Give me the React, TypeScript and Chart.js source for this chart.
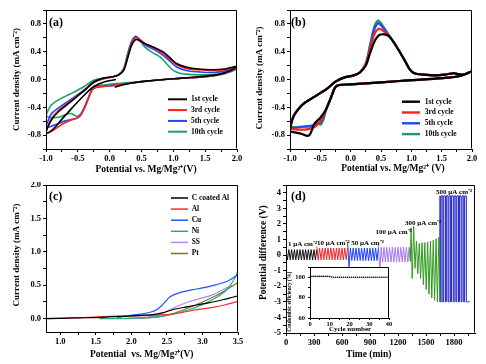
import React, { useEffect, useRef } from 'react';
import { Chart, registerables } from 'chart.js';

Chart.register(...registerables);

const SERIF = "'Liberation Serif', 'Times New Roman', serif";

// ---------------- Panel (a): CV on C-coated Al ----------------
const aLabels = ['1st cycle', '3rd cycle', '5th cycle', '10th cycle'];
const aColors = ['#000000', '#ff1f1f', '#2446ff', '#1f9f6a'];
const aCycle1: [number, number][] = [
  [0.1, 0.0], [-0.1, -0.04], [-0.25, -0.1], [-0.35, -0.18], [-0.5, -0.32], [-0.65, -0.47], [-0.75, -0.57], [-0.85, -0.68], [-0.95, -0.76], [-1.0, -0.77],
  [-0.97, -0.68], [-0.9, -0.56], [-0.8, -0.46], [-0.6, -0.31], [-0.4, -0.16], [-0.25, -0.04], [-0.1, 0.02], [0.05, 0.04], [0.15, 0.07], [0.22, 0.13], [0.28, 0.3], [0.34, 0.48], [0.4, 0.57], [0.45, 0.57], [0.55, 0.52], [0.7, 0.46], [0.85, 0.39], [0.95, 0.31], [1.05, 0.23], [1.2, 0.18], [1.4, 0.15], [1.6, 0.14], [1.8, 0.15], [2.0, 0.19],
  [1.9, 0.13], [1.7, 0.07], [1.4, 0.04], [1.0, 0.01], [0.6, -0.02], [0.35, -0.05], [0.2, -0.08], [0.08, -0.11],
];
const aCycle3: [number, number][] = [
  [2.0, 0.17], [1.8, 0.09], [1.5, 0.04], [1.0, 0.01], [0.5, -0.03], [0.2, -0.07], [0.0, -0.09], [-0.2, -0.11], [-0.27, -0.14], [-0.33, -0.26], [-0.4, -0.42], [-0.47, -0.53], [-0.53, -0.56], [-0.62, -0.59], [-0.72, -0.63], [-0.82, -0.69], [-0.92, -0.75], [-1.0, -0.76],
  [-0.97, -0.68], [-0.92, -0.57], [-0.82, -0.46], [-0.6, -0.3], [-0.4, -0.16], [-0.25, -0.04], [-0.1, 0.01], [0.05, 0.04], [0.15, 0.07], [0.22, 0.14], [0.28, 0.32], [0.34, 0.51], [0.4, 0.6], [0.45, 0.59], [0.55, 0.52], [0.7, 0.45], [0.85, 0.37], [0.95, 0.29], [1.05, 0.21], [1.2, 0.16], [1.4, 0.14], [1.6, 0.13], [1.8, 0.14], [2.0, 0.17],
];
const aCycle5: [number, number][] = [
  [2.0, 0.16], [1.8, 0.09], [1.5, 0.04], [1.0, 0.01], [0.5, -0.03], [0.2, -0.07], [0.0, -0.09], [-0.2, -0.11], [-0.27, -0.14], [-0.33, -0.26], [-0.4, -0.42], [-0.47, -0.53], [-0.53, -0.56], [-0.62, -0.58], [-0.75, -0.61], [-0.88, -0.66], [-1.0, -0.69],
  [-0.97, -0.6], [-0.92, -0.5], [-0.82, -0.42], [-0.6, -0.28], [-0.4, -0.15], [-0.25, -0.03], [-0.1, 0.01], [0.05, 0.04], [0.15, 0.07], [0.22, 0.15], [0.28, 0.35], [0.34, 0.54], [0.4, 0.62], [0.45, 0.6], [0.55, 0.5], [0.7, 0.43], [0.85, 0.34], [0.95, 0.26], [1.05, 0.18], [1.2, 0.13], [1.4, 0.11], [1.6, 0.1], [1.8, 0.12], [2.0, 0.16],
];
const aCycle10: [number, number][] = [
  [2.0, 0.15], [1.8, 0.08], [1.5, 0.04], [1.0, 0.01], [0.5, -0.03], [0.2, -0.05], [0.0, -0.07], [-0.2, -0.09], [-0.27, -0.13], [-0.33, -0.25], [-0.4, -0.4], [-0.46, -0.5], [-0.52, -0.53], [-0.6, -0.49], [-0.68, -0.5], [-0.78, -0.54], [-0.9, -0.55], [-1.0, -0.52],
  [-0.97, -0.45], [-0.92, -0.37], [-0.82, -0.3], [-0.6, -0.2], [-0.4, -0.1], [-0.25, -0.01], [-0.1, 0.02], [0.05, 0.04], [0.15, 0.08], [0.22, 0.16], [0.28, 0.36], [0.34, 0.53], [0.4, 0.6], [0.45, 0.58], [0.55, 0.47], [0.65, 0.4], [0.8, 0.32], [0.9, 0.22], [1.0, 0.13], [1.1, 0.09], [1.3, 0.07], [1.6, 0.07], [1.8, 0.1], [2.0, 0.15],
];

// ---------------- Panel (b): CV ----------------
const bLabels = ['1st cycle', '3rd cycle', '5th cycle', '10th cycle'];
const bColors = ['#000000', '#ff1f1f', '#2446ff', '#1f9f5c'];
const bCycle1: [number, number][] = [
  [2.0, 0.12], [1.8, 0.05], [1.5, 0.02], [1.0, -0.01], [0.5, -0.04], [0.0, -0.07], [-0.2, -0.08], [-0.26, -0.12], [-0.32, -0.25], [-0.4, -0.42], [-0.5, -0.55], [-0.6, -0.64], [-0.67, -0.79], [-0.72, -0.81], [-0.82, -0.78], [-0.92, -0.76], [-1.0, -0.74],
  [-0.98, -0.64], [-0.94, -0.53], [-0.88, -0.45], [-0.78, -0.35], [-0.6, -0.25], [-0.4, -0.14], [-0.25, -0.03], [-0.1, 0.03], [0.05, 0.06], [0.15, 0.1], [0.25, 0.2], [0.32, 0.38], [0.4, 0.56], [0.47, 0.64], [0.55, 0.65], [0.62, 0.63], [0.7, 0.55], [0.8, 0.41], [0.9, 0.26], [0.97, 0.15], [1.05, 0.09], [1.2, 0.07], [1.4, 0.06], [1.55, 0.07], [1.7, 0.09], [1.85, 0.07], [2.0, 0.12],
];
const bCycle3: [number, number][] = [
  [2.0, 0.12], [1.8, 0.05], [1.5, 0.02], [1.0, -0.01], [0.5, -0.04], [0.0, -0.07], [-0.2, -0.08], [-0.26, -0.12], [-0.32, -0.25], [-0.4, -0.42], [-0.48, -0.57], [-0.56, -0.66], [-0.64, -0.7], [-0.75, -0.72], [-0.88, -0.72], [-1.0, -0.7],
  [-0.98, -0.62], [-0.94, -0.52], [-0.88, -0.44], [-0.78, -0.35], [-0.6, -0.25], [-0.4, -0.14], [-0.25, -0.03], [-0.1, 0.03], [0.05, 0.06], [0.15, 0.1], [0.25, 0.22], [0.32, 0.44], [0.39, 0.65], [0.46, 0.73], [0.52, 0.71], [0.6, 0.65], [0.7, 0.55], [0.8, 0.41], [0.9, 0.26], [0.97, 0.15], [1.05, 0.09], [1.2, 0.07], [1.4, 0.06], [1.55, 0.07], [1.7, 0.09], [1.85, 0.07], [2.0, 0.12],
];
const bCycle5: [number, number][] = [
  [2.0, 0.12], [1.8, 0.05], [1.5, 0.02], [1.0, -0.01], [0.5, -0.04], [0.0, -0.07], [-0.2, -0.08], [-0.26, -0.12], [-0.32, -0.25], [-0.4, -0.42], [-0.45, -0.55], [-0.5, -0.62], [-0.56, -0.64], [-0.65, -0.67], [-0.8, -0.68], [-1.0, -0.7],
  [-0.98, -0.62], [-0.94, -0.52], [-0.88, -0.44], [-0.78, -0.35], [-0.6, -0.25], [-0.4, -0.14], [-0.25, -0.03], [-0.1, 0.03], [0.05, 0.06], [0.15, 0.1], [0.25, 0.23], [0.32, 0.48], [0.39, 0.72], [0.45, 0.81], [0.5, 0.78], [0.6, 0.67], [0.7, 0.55], [0.8, 0.41], [0.9, 0.26], [0.97, 0.15], [1.05, 0.09], [1.2, 0.07], [1.4, 0.06], [1.55, 0.07], [1.7, 0.09], [1.85, 0.07], [2.0, 0.12],
];
const bCycle10: [number, number][] = [
  [2.0, 0.12], [1.8, 0.05], [1.5, 0.02], [1.0, -0.01], [0.5, -0.04], [0.0, -0.07], [-0.2, -0.08], [-0.26, -0.12], [-0.32, -0.25], [-0.4, -0.42], [-0.45, -0.58], [-0.49, -0.65], [-0.54, -0.63], [-0.62, -0.66], [-0.8, -0.68], [-1.0, -0.68],
  [-0.98, -0.62], [-0.94, -0.52], [-0.88, -0.44], [-0.78, -0.35], [-0.6, -0.25], [-0.4, -0.14], [-0.25, -0.03], [-0.1, 0.03], [0.05, 0.06], [0.15, 0.1], [0.25, 0.23], [0.32, 0.5], [0.39, 0.76], [0.45, 0.85], [0.5, 0.81], [0.6, 0.68], [0.7, 0.55], [0.8, 0.41], [0.9, 0.26], [0.97, 0.15], [1.05, 0.09], [1.2, 0.07], [1.4, 0.06], [1.55, 0.07], [1.7, 0.09], [1.85, 0.07], [2.0, 0.12],
];

// ---------------- Panel (c): LSV on substrates ----------------
const cLabels = ['C coated Al', 'Al', 'Cu', 'Ni', 'SS', 'Pt'];
const cColors = ['#000000', '#ff2a2a', '#2255ff', '#1fae8c', '#b388f5', '#7b7b12'];
const cCoatedAl: [number, number][] = [[0.8, 0.0], [1.2, 0.01], [1.6, 0.02], [2.0, 0.04], [2.3, 0.06], [2.45, 0.09], [2.6, 0.14], [2.8, 0.18], [3.0, 0.22], [3.2, 0.26], [3.35, 0.3], [3.5, 0.34]];
const cAl: [number, number][] = [[0.8, 0.0], [1.2, 0.01], [1.6, 0.03], [2.0, 0.04], [2.3, 0.05], [2.5, 0.06], [2.7, 0.09], [2.9, 0.13], [3.1, 0.16], [3.3, 0.2], [3.5, 0.26]];
const cCu: [number, number][] = [[1.8, 0.02], [2.0, 0.05], [2.2, 0.08], [2.35, 0.13], [2.45, 0.22], [2.55, 0.33], [2.68, 0.39], [2.85, 0.43], [3.0, 0.46], [3.2, 0.51], [3.35, 0.56], [3.5, 0.66]];
const cNi: [number, number][] = [[1.55, 0.0], [1.8, 0.0], [2.1, 0.01], [2.4, 0.03], [2.6, 0.07], [2.8, 0.13], [3.0, 0.21], [3.2, 0.32], [3.35, 0.44], [3.45, 0.6], [3.5, 0.71]];
const cSS: [number, number][] = [[2.0, 0.0], [2.2, 0.02], [2.4, 0.06], [2.55, 0.14], [2.68, 0.2], [2.83, 0.26], [3.0, 0.31], [3.15, 0.36], [3.3, 0.44], [3.42, 0.5]];
const cPt: [number, number][] = [[1.9, 0.0], [2.2, 0.01], [2.4, 0.03], [2.6, 0.08], [2.8, 0.16], [3.0, 0.25], [3.2, 0.35], [3.35, 0.44], [3.5, 0.54]];

// ---------------- Panel (d): galvanostatic cycling ----------------
const d1T = [0, 15, 30, 45, 60, 75, 90, 105, 120, 135, 150, 165, 180, 195, 210, 225, 240, 255, 270, 285, 300, 315, 330];
const d1V = [0.35, -0.3, 0.35, -0.3, 0.35, -0.3, 0.35, -0.3, 0.35, -0.3, 0.35, -0.3, 0.35, -0.3, 0.35, -0.3, 0.35, -0.3, 0.35, -0.3, 0.35, -0.3, 0.35];
const d2T = [330, 345, 360, 375, 390, 405, 420, 435, 450, 465, 480, 495, 510, 525, 540, 555, 570, 585, 600, 615, 630, 645, 660];
const d2V = [0.55, -0.32, 0.45, -0.3, 0.45, -0.3, 0.45, -0.3, 0.45, -0.3, 0.45, -0.3, 0.45, -0.3, 0.45, -0.3, 0.45, -0.3, 0.45, -0.3, 0.45, -0.3, 0.45];
const d3T = [660, 675, 690, 705, 720, 735, 750, 765, 780, 795, 810, 825, 840, 855, 870, 885, 900, 915, 930, 945, 960, 975, 990];
const d3V = [0.85, -0.75, 0.45, -0.35, 0.45, -0.35, 0.45, -0.35, 0.45, -0.35, 0.45, -0.35, 0.45, -0.35, 0.45, -0.35, 0.45, -0.35, 0.45, -0.35, 0.45, -0.35, 0.45];
const d4T = [990, 1005, 1020, 1035, 1050, 1065, 1080, 1095, 1110, 1125, 1140, 1155, 1170, 1185, 1200, 1215, 1230, 1245, 1260, 1275, 1290, 1305, 1320];
const d4V = [0.65, -0.97, 0.5, -0.45, 0.5, -0.45, 0.5, -0.45, 0.5, -0.45, 0.5, -0.45, 0.5, -0.45, 0.5, -0.45, 0.5, -0.45, 0.5, -0.45, 0.5, -0.45, 0.5];
const d5T = [1320, 1332, 1340, 1352, 1368, 1382, 1398, 1412, 1428, 1442, 1458, 1472, 1488, 1502, 1518, 1532, 1548, 1562, 1578, 1592, 1608, 1622, 1638, 1650];
const d5V = [0.5, -0.4, 1.75, -1.5, 1.85, -0.85, 0.9, -1.2, 0.75, -1.5, 0.8, -1.9, 0.8, -2.2, 0.85, -2.5, 0.9, -2.75, 0.95, -2.9, 1.05, -3.0, 1.15, -3.0];
const d6T = [1650, 1652, 1662, 1680, 1690, 1708, 1718, 1736, 1746, 1764, 1774, 1792, 1802, 1820, 1830, 1848, 1858, 1876, 1886, 1904, 1914, 1932, 1942, 1968];
const d6V = [-3.0, 3.8, -3.0, 3.8, -3.0, 3.8, -3.0, 3.8, -3.0, 3.8, -3.0, 3.8, -3.0, 3.8, -3.0, 3.8, -3.0, 3.8, -3.0, 3.8, -3.0, 3.8, -3.0, -3.0];
const dColors = ['#111111', '#f0262a', '#1e40ff', '#a878f0', '#2e9a1e', '#2323c8'];
const dNotes = [
  { text: '1 μA cm⁻²', t: 21, v: 0.68 },
  { text: '10 μA cm⁻²', t: 332, v: 0.74 },
  { text: '50 μA cm⁻²', t: 699, v: 0.74 },
  { text: '100 μA cm⁻²', t: 960, v: 1.5 },
  { text: '300 μA cm⁻²', t: 1276, v: 2.03 },
  { text: '500 μA cm⁻²', t: 1608, v: 4.07 },
];

// inset: coulombic efficiency
const inCycles = [1, 2, 3, 4, 5, 6, 7, 8, 9, 10, 11, 12, 13, 14, 15, 16, 17, 18, 19, 20, 21, 22, 23, 24, 25, 26, 27, 28, 29, 30, 31, 32, 33, 34, 35, 36, 37, 38, 39, 40];
const inCE = [100.8, 100.8, 100.8, 100.8, 100.8, 100.8, 100.8, 100.8, 100.8, 100.7, 100.1, 100.0, 100.0, 100.0, 100.0, 100.0, 100.0, 100.0, 100.0, 100.0, 100.0, 100.0, 100.0, 100.0, 100.0, 100.0, 100.0, 100.0, 100.0, 100.0, 100.0, 100.0, 100.0, 100.0, 100.0, 100.0, 100.0, 100.0, 100.0, 100.0];

// ---------------- helpers ----------------
const pts = (arr: [number, number][]) => arr.map(([x, y]) => ({ x, y }));
const zip = (t: number[], v: number[]) => t.map((x, i) => ({ x, y: v[i] }));

function linAxis(min: number, max: number, step: number, major: number, dec: number, isX: boolean, fixed: number, fontSize = 8.5, tickLen = 3, pad = 2) {
  return {
    type: 'linear',
    min,
    max,
    afterFit(s: any) {
      if (isX) s.height = fixed;
      else s.width = fixed;
      s.paddingLeft = 0;
      s.paddingRight = 0;
      s.paddingTop = 0;
      s.paddingBottom = 0;
    },
    ticks: {
      stepSize: step,
      autoSkip: false,
      maxRotation: 0,
      minRotation: 0,
      includeBounds: false,
      padding: pad,
      color: '#000',
      font: { family: SERIF, size: fontSize, weight: 'bold' },
      callback: (v: number) => {
        const r = v / major;
        return Math.abs(r - Math.round(r)) < 1e-6 ? Number(v).toFixed(dec) : '';
      },
    },
    grid: { drawOnChartArea: false, drawTicks: true, tickLength: tickLen, color: '#000', lineWidth: 1 },
    border: { display: true, color: '#000', width: 1 },
  };
}

type Txt = { text: string; x: number; y: number; size: number };
type DecorCfg = {
  panel?: Txt;
  xTitle: Txt;
  yTitle: Txt;
  legend?: { x: number; y: number; dy: number; len: number; tx: number; size: number; lw: number };
  notes?: { text: string; t: number; v: number }[];
  noteSize?: number;
  whiteArea?: boolean;
};

function decor(cfg: DecorCfg) {
  return {
    id: 'decor',
    beforeDraw(chart: any) {
      if (!cfg.whiteArea) return;
      const { ctx, chartArea: a } = chart;
      ctx.save();
      ctx.fillStyle = '#fff';
      ctx.fillRect(a.left, a.top, a.right - a.left, a.bottom - a.top);
      ctx.restore();
    },
    afterDraw(chart: any) {
      const { ctx, chartArea: a } = chart;
      ctx.save();
      ctx.strokeStyle = '#000';
      ctx.lineWidth = 1;
      const l = Math.round(a.left) + 0.5, r = Math.round(a.right) - 0.5, t = Math.round(a.top) + 0.5, b = Math.round(a.bottom) - 0.5;
      ctx.beginPath();
      ctx.moveTo(l, b);
      ctx.lineTo(l, t);
      ctx.lineTo(r, t);
      ctx.lineTo(r, b);
      ctx.stroke();
      ctx.fillStyle = '#000';
      ctx.textBaseline = 'middle';
      if (cfg.panel) {
        ctx.textAlign = 'left';
        ctx.font = `bold ${cfg.panel.size}px ${SERIF}`;
        ctx.fillText(cfg.panel.text, cfg.panel.x, cfg.panel.y);
      }
      ctx.textAlign = 'center';
      ctx.font = `bold ${cfg.xTitle.size}px ${SERIF}`;
      ctx.fillText(cfg.xTitle.text, cfg.xTitle.x, cfg.xTitle.y);
      ctx.save();
      ctx.translate(cfg.yTitle.x, cfg.yTitle.y);
      ctx.rotate(-Math.PI / 2);
      ctx.font = `bold ${cfg.yTitle.size}px ${SERIF}`;
      ctx.fillText(cfg.yTitle.text, 0, 0);
      ctx.restore();
      if (cfg.legend) {
        const lg = cfg.legend;
        ctx.textAlign = 'left';
        ctx.font = `bold ${lg.size}px ${SERIF}`;
        chart.data.datasets.forEach((ds: any, i: number) => {
          const y = lg.y + i * lg.dy;
          ctx.strokeStyle = ds.borderColor;
          ctx.lineWidth = lg.lw;
          ctx.beginPath();
          ctx.moveTo(lg.x, y);
          ctx.lineTo(lg.x + lg.len, y);
          ctx.stroke();
          ctx.fillStyle = '#000';
          ctx.fillText(ds.label, lg.tx, y);
        });
      }
      if (cfg.notes) {
        ctx.textAlign = 'left';
        ctx.fillStyle = '#000';
        ctx.font = `bold ${cfg.noteSize || 7}px ${SERIF}`;
        cfg.notes.forEach((n) => {
          ctx.fillText(n.text, chart.scales.x.getPixelForValue(n.t), chart.scales.y.getPixelForValue(n.v));
        });
      }
      ctx.restore();
    },
  };
}

function lineDs(label: string, data: any[], color: string, width: number, tension: number, extra: any = {}) {
  return { label, data, borderColor: color, backgroundColor: color, borderWidth: width, pointRadius: 0, tension, fill: false, ...extra };
}

function baseOptions(padding: any, x: any, y: any) {
  return {
    responsive: false,
    maintainAspectRatio: false,
    animation: false,
    devicePixelRatio: 1,
    layout: { padding, autoPadding: false },
    plugins: { legend: { display: false }, tooltip: { enabled: false }, title: { display: false } },
    scales: { x, y },
  };
}

// ---------------- configs ----------------
const makeA = () => ({
  type: 'line',
  data: {
    datasets: [aCycle1, aCycle3, aCycle5, aCycle10].map((s, i) => lineDs(aLabels[i], pts(s), aColors[i], 1.6, 0.3)),
  },
  options: baseOptions({ left: 0, top: 10, right: 6, bottom: 0 }, linAxis(-1, 2, 0.25, 0.5, 1, true, 33), linAxis(-1, 1, 0.2, 0.4, 1, false, 46)),
  plugins: [
    decor({
      panel: { text: '(a)', x: 49, y: 22.5, size: 12 },
      xTitle: { text: 'Potential vs. Mg/Mg²⁺(V)', x: 146, y: 170, size: 9.5 },
      yTitle: { text: 'Current density (mA cm⁻²)', x: 17, y: 79.5, size: 9 },
      legend: { x: 168, y: 99.3, dy: 10.8, len: 19, tx: 191, size: 7.5, lw: 2 },
    }),
  ],
});

const makeB = () => ({
  type: 'line',
  data: {
    datasets: [bCycle1, bCycle3, bCycle5, bCycle10].map((s, i) => lineDs(bLabels[i], pts(s), bColors[i], 2.2, 0.3)),
  },
  options: baseOptions({ left: 0, top: 10, right: 14, bottom: 0 }, linAxis(-1, 2, 0.25, 0.5, 1, true, 33), linAxis(-1, 1, 0.2, 0.4, 1, false, 47)),
  plugins: [
    decor({
      panel: { text: '(b)', x: 48, y: 22.7, size: 12 },
      xTitle: { text: 'Potential vs. Mg/Mg²⁺ (V)', x: 150, y: 168.5, size: 9.5 },
      yTitle: { text: 'Current density (mA cm⁻²)', x: 17, y: 78, size: 9 },
      legend: { x: 159, y: 101.7, dy: 10.8, len: 18, tx: 181.7, size: 7.5, lw: 2.4 },
    }),
  ],
});

const makeC = () => ({
  type: 'line',
  data: {
    datasets: [cCoatedAl, cAl, cCu, cNi, cSS, cPt].map((s, i) => lineDs(cLabels[i], pts(s), cColors[i], 1.2, 0.35)),
  },
  options: baseOptions({ left: 0, top: 3, right: 5, bottom: 0 }, linAxis(0.8, 3.5, 0.25, 0.5, 1, true, 32), linAxis(-0.2, 2, 0.25, 0.5, 1, false, 46)),
  plugins: [
    decor({
      panel: { text: '(c)', x: 49, y: 15, size: 12 },
      xTitle: { text: 'Potential  vs. Mg/Mg²⁺(V)', x: 141.7, y: 173, size: 9.5 },
      yTitle: { text: 'Current density (mA cm⁻²)', x: 16.7, y: 73, size: 9 },
      legend: { x: 171, y: 16, dy: 11.1, len: 17, tx: 191.7, size: 7.5, lw: 1.5 },
    }),
  ],
});

const makeD = () => ({
  type: 'line',
  data: {
    datasets: [
      lineDs('1', zip(d1T, d1V), dColors[0], 1, 0),
      lineDs('10', zip(d2T, d2V), dColors[1], 1, 0),
      lineDs('50', zip(d3T, d3V), dColors[2], 1, 0),
      lineDs('100', zip(d4T, d4V), dColors[3], 1, 0),
      lineDs('300', zip(d5T, d5V), dColors[4], 1, 0),
      lineDs('500', zip(d6T, d6V), dColors[5], 1, 0, { stepped: 'after' }),
    ],
  },
  options: baseOptions({ left: 0, top: 3, right: 11, bottom: 0 }, linAxis(0, 2025, 150, 300, 0, true, 31), linAxis(-5, 4.5, 0.5, 1, 0, false, 43)),
  plugins: [
    decor({
      panel: { text: '(d)', x: 48, y: 15, size: 12 },
      xTitle: { text: 'Time (min)', x: 125.7, y: 173, size: 9.5 },
      yTitle: { text: 'Potential difference (V)', x: 20.7, y: 70.7, size: 9.5 },
      notes: dNotes,
      noteSize: 7,
    }),
  ],
});

const makeInset = () => ({
  type: 'line',
  data: {
    datasets: [
      {
        label: 'CE',
        data: zip(inCycles, inCE),
        showLine: false,
        pointRadius: 0.8,
        pointBorderWidth: 0,
        pointBackgroundColor: '#000',
        borderColor: '#000',
      },
    ],
  },
  options: baseOptions({ left: 0, top: 5, right: 4, bottom: 0 }, linAxis(0, 40, 5, 10, 0, true, 18, 6.5, 2, 0), linAxis(60, 110, 10, 20, 0, false, 27, 6.5, 2, 3)),
  plugins: [
    decor({
      xTitle: { text: 'Cycle number', x: 67, y: 67.5, size: 7 },
      yTitle: { text: 'Coulombic efficiency (%)', x: 7, y: 39.7, size: 5.5 },
      whiteArea: true,
    }),
  ],
});

function ChartCanvas({ left, top, width, height, make }: { left: number; top: number; width: number; height: number; make: () => any }) {
  const ref = useRef<HTMLCanvasElement | null>(null);
  useEffect(() => {
    if (!ref.current) return;
    const chart = new Chart(ref.current, make());
    return () => chart.destroy();
  }, [make]);
  return <canvas ref={ref} width={width} height={height} style={{ position: 'absolute', left, top, width, height, display: 'block' }} />;
}

export default function App() {
  return (
    <div style={{ position: 'absolute', left: 0, top: 0, width: 486, height: 364, background: '#fff', overflow: 'hidden' }}>
      <ChartCanvas left={0} top={0} width={243} height={182} make={makeA} />
      <ChartCanvas left={243} top={0} width={243} height={182} make={makeB} />
      <ChartCanvas left={0} top={182} width={243} height={182} make={makeC} />
      <ChartCanvas left={243} top={182} width={243} height={182} make={makeD} />
      <ChartCanvas left={283} top={262} width={110} height={74} make={makeInset} />
    </div>
  );
}
